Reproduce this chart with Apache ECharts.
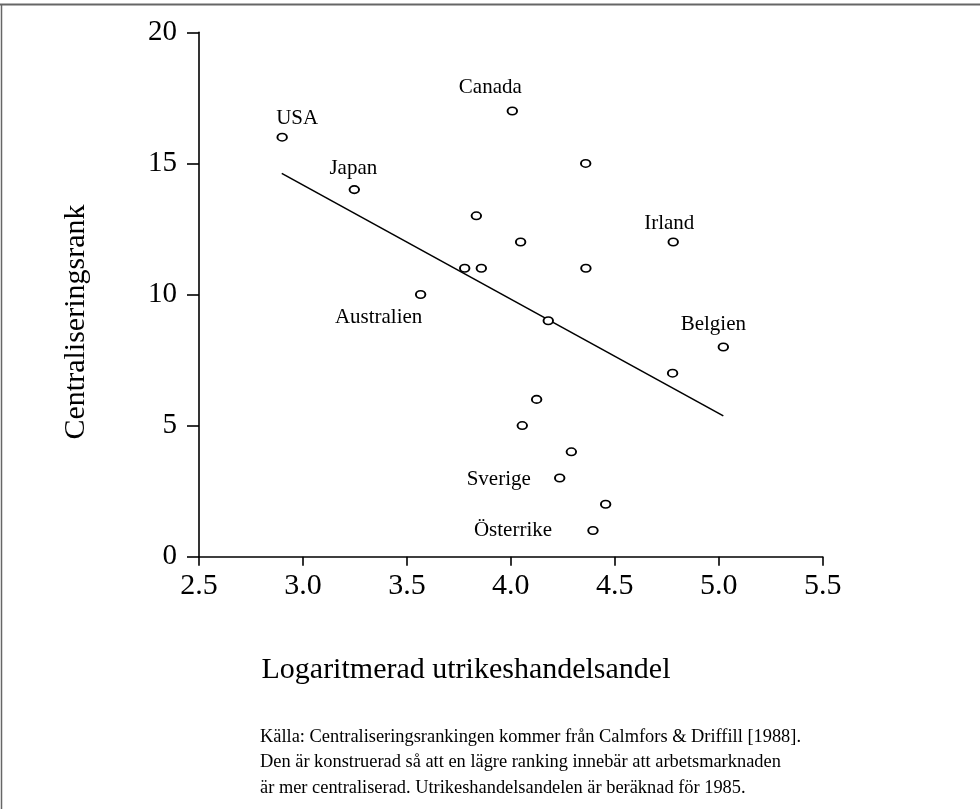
<!DOCTYPE html>
<html>
<head>
<meta charset="utf-8">
<script src="https://cdn.jsdelivr.net/npm/echarts@6/dist/echarts.min.js"></script>
<style>
html,body{margin:0;padding:0;background:#fff;}
#chart{width:980px;height:809px;}
</style>
</head>
<body>
<div id="chart"></div>
<script>
// ---- data ----
var tradeShare = [2.90, 3.247, 4.007, 4.36, 3.834, 4.047, 3.778, 3.858, 4.361, 3.566, 4.18, 4.781, 5.022, 4.778, 4.124, 4.055, 4.291, 4.235, 4.456, 4.395];
var centralRank = [16, 14, 17, 15, 13, 12, 11, 11, 11, 10, 9, 12, 8, 7, 6, 5, 4, 3, 2, 1];
var countryNames = ['USA', 'Japan', 'Canada', '', '', '', '', '', '', 'Australien', '', 'Irland', 'Belgien', '', '', '', '', 'Sverige', '', 'Österrike'];
var fitX = [2.898, 5.022];
var fitY = [14.62, 5.37];
var xTicks = [2.5, 3.0, 3.5, 4.0, 4.5, 5.0, 5.5];
var yTicks = [0, 5, 10, 15, 20];
var xTitle = 'Logaritmerad utrikeshandelsandel';
var yTitle = 'Centraliseringsrank';
var noteLines = [
  'Källa: Centraliseringsrankingen kommer från Calmfors & Driffill [1988].',
  'Den är konstruerad så att en lägre ranking innebär att arbetsmarknaden',
  'är mer centraliserad. Utrikeshandelsandelen är beräknad för 1985.'
];

// ---- label placement (style) ----
var labelOffsets = {
  'USA': [15, -19],
  'Japan': [-1, -21],
  'Canada': [-22, -23],
  'Irland': [-4, -19],
  'Belgien': [-10, -22],
  'Australien': [-42, 23],
  'Sverige': [-61, 1],
  'Österrike': [-80, 0]
};

var FONT = "'Liberation Serif', 'Times New Roman', serif";

var scatterData = tradeShare.map(function (x, i) {
  var name = countryNames[i];
  var item = { value: [x, centralRank[i]], name: name };
  if (name) {
    item.label = {
      show: true,
      position: 'inside',
      offset: labelOffsets[name],
      formatter: name,
      color: '#000',
      opacity: 1,
      textBorderWidth: 0,
      fontFamily: FONT,
      fontSize: 21
    };
  }
  return item;
});

var chart = echarts.init(document.getElementById('chart'), null, { renderer: 'canvas' });
chart.setOption({
  backgroundColor: '#fff',
  animation: false,
  grid: { left: 199, right: 157.3, top: 32.3, bottom: 252.3 },
  xAxis: {
    type: 'value',
    min: xTicks[0],
    max: xTicks[xTicks.length - 1],
    interval: 0.5,
    axisLine: { lineStyle: { color: '#000', width: 1.6 } },
    axisTick: { length: 9, lineStyle: { color: '#000', width: 1.6 } },
    axisLabel: {
      margin: 14,
      color: '#000',
      fontFamily: FONT,
      fontSize: 30,
      formatter: function (v) { return v.toFixed(1); }
    },
    splitLine: { show: false }
  },
  yAxis: {
    type: 'value',
    min: yTicks[0],
    max: yTicks[yTicks.length - 1],
    interval: 5,
    axisLine: { show: true, lineStyle: { color: '#000', width: 1.6 } },
    axisTick: { show: true, length: 12, lineStyle: { color: '#000', width: 1.6 } },
    axisLabel: {
      margin: 22,
      color: '#000',
      fontFamily: FONT,
      fontSize: 29
    },
    splitLine: { show: false }
  },
  series: [
    {
      type: 'line',
      data: fitX.map(function (x, i) { return [x, fitY[i]]; }),
      symbol: 'none',
      lineStyle: { color: '#000', width: 1.6 },
      silent: true,
      z: 2
    },
    {
      type: 'scatter',
      data: scatterData,
      symbol: 'circle',
      symbolSize: [9.5, 7.5],
      itemStyle: { color: '#fff', borderColor: '#000', borderWidth: 1.7, opacity: 1 },
      label: { show: false },
      z: 3
    }
  ],
  graphic: [
    { type: 'line', shape: { x1: 0, y1: 4.5, x2: 980, y2: 4.5 }, style: { stroke: '#666', lineWidth: 2 } },
    { type: 'line', shape: { x1: 1.5, y1: 4, x2: 1.5, y2: 809 }, style: { stroke: '#666', lineWidth: 1.5 } },
    {
      type: 'text', x: 466, y: 670,
      style: { text: xTitle, fill: '#000', font: '30px ' + FONT, textAlign: 'center', textVerticalAlign: 'middle' }
    },
    {
      type: 'text', x: 76, y: 322, rotation: Math.PI / 2,
      style: { text: yTitle, fill: '#000', font: '30px ' + FONT, textAlign: 'center', textVerticalAlign: 'middle' }
    },
    {
      type: 'text', left: 260, top: 724,
      style: { text: noteLines.join('\n'), fill: '#000', font: '18.4px ' + FONT, lineHeight: 25.5, textAlign: 'left', textVerticalAlign: 'top' }
    }
  ]
});
</script>
</body>
</html>
